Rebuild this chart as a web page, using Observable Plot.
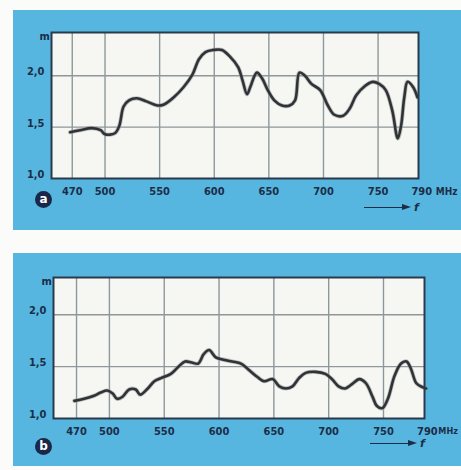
<!DOCTYPE html>
<html>
<head>
<meta charset="utf-8">
<script src="https://cdn.jsdelivr.net/npm/d3@7"></script>
<script src="https://cdn.jsdelivr.net/npm/@observablehq/plot@0.6"></script>
<style>
  html, body { margin: 0; padding: 0; background: #ffffff; }
  #wrap { position: relative; width: 461px; height: 470px; overflow: hidden; background: #fbfbf9; }
  .panel { position: absolute; background: #56b6e0; }
  .plot { position: absolute; left: 0; }
  .badge { position: absolute; width: 17px; height: 17px; border-radius: 50%; background: #1a2748;
           color: #ffffff; font: bold 12px "DejaVu Sans", sans-serif; text-align: center; line-height: 16px; }
  .arrow { position: absolute; height: 10px; width: 60px; }
  .arrow .ln { position: absolute; left: 0; top: 4px; width: 40px; border-top: 1px solid #1d2d48; }
  .arrow .hd { position: absolute; left: 38px; top: 1px; width: 0; height: 0;
               border-top: 3.5px solid transparent; border-bottom: 3.5px solid transparent; border-left: 9px solid #1d2d48; }
  .arrow .f { position: absolute; left: 50px; top: -1px; font: italic bold 11px "DejaVu Sans", sans-serif; color: #1d2d48; line-height: 12px; }
</style>
</head>
<body>
<div id="wrap">
  <div class="panel" style="left:13px; top:10px; width:448px; height:220px;"></div>
  <div class="panel" style="left:13px; top:253px; width:448px; height:213px;"></div>
  <div id="plotA" class="plot" style="top:0px;"></div>
  <div id="plotB" class="plot" style="top:235px;"></div>
  <div class="badge" style="left:35px; top:191px;">a</div>
  <div class="badge" style="left:35px; top:438px;">b</div>
  <div class="arrow" style="left:364px; top:203px;"><div class="ln"></div><div class="hd"></div><div class="f">f</div></div>
  <div class="arrow" style="left:370px; top:439px;"><div class="ln"></div><div class="hd"></div><div class="f">f</div></div>
</div>
<script>
// ---- data ----
const gridX = [470, 500, 550, 600, 650, 700, 750];
const xTickValues = [470, 500, 550, 600, 650, 700, 750, 790];
const xTickLabels = ["470", "500", "550", "600", "650", "700", "750", "790"];
const gridY = [1.5, 2.0];
const yTickValues = [1.0, 1.5, 2.0];
const yTickLabels = ["1,0", "1,5", "2,0"];
const unitY = "m";
const unitX = "MHz";

const freqA = [468, 477, 488, 496, 500, 509, 513, 517, 522, 529, 538, 548, 554, 563, 572, 580, 586, 592, 599, 607, 614, 622, 626, 630, 633, 639, 644, 649, 655, 662, 669, 674, 678, 683, 689, 697, 704, 710, 718, 724, 730, 738, 745, 751, 757, 763, 768, 771, 774, 777, 782, 786];
const valA  = [1.45, 1.47, 1.49, 1.47, 1.43, 1.44, 1.51, 1.70, 1.76, 1.78, 1.75, 1.71, 1.72, 1.79, 1.89, 2.01, 2.16, 2.23, 2.25, 2.25, 2.19, 2.08, 1.95, 1.82, 1.89, 2.03, 1.97, 1.86, 1.76, 1.71, 1.71, 1.76, 2.03, 2.00, 1.92, 1.86, 1.71, 1.62, 1.61, 1.68, 1.81, 1.90, 1.94, 1.92, 1.86, 1.66, 1.39, 1.51, 1.79, 1.94, 1.89, 1.79];

const freqB = [468, 477, 486, 492, 498, 503, 507, 512, 518, 524, 528, 535, 541, 547, 556, 563, 569, 575, 581, 586, 591, 597, 603, 612, 620, 627, 635, 641, 649, 655, 661, 667, 673, 679, 688, 697, 703, 709, 715, 721, 728, 734, 740, 744, 749, 754, 760, 766, 771, 775, 780, 786, 789];
const valB  = [1.17, 1.19, 1.22, 1.25, 1.27, 1.24, 1.19, 1.21, 1.28, 1.28, 1.23, 1.29, 1.36, 1.39, 1.43, 1.50, 1.55, 1.54, 1.53, 1.62, 1.66, 1.59, 1.57, 1.55, 1.53, 1.47, 1.40, 1.36, 1.38, 1.31, 1.29, 1.31, 1.39, 1.44, 1.45, 1.43, 1.38, 1.31, 1.29, 1.33, 1.38, 1.34, 1.21, 1.12, 1.10, 1.19, 1.41, 1.53, 1.55, 1.48, 1.34, 1.30, 1.29];

// ---- styles ----
const TXT = "#1d2d48";
const FONT = "'DejaVu Sans Condensed', 'Liberation Sans Narrow', sans-serif";

function panel(freq, val, opts) {
  const data = freq.map((f, i) => ({f, v: val[i]}));
  const xt = xTickValues.map((x, i) => ({x, label: xTickLabels[i]}));
  const yt = yTickValues.map((y, i) => ({y, label: yTickLabels[i]}));
  return Plot.plot({
    width: 461, height: 235,
    marginLeft: opts.ml, marginRight: opts.mr, marginTop: opts.mt, marginBottom: opts.mb,
    x: {domain: opts.xd, axis: null},
    y: {domain: opts.yd, axis: null},
    style: {background: "transparent", fontFamily: FONT, overflow: "visible"},
    marks: [
      Plot.frame({fill: "#f6f7f3", stroke: null}),
      Plot.ruleX(gridX, {stroke: "#8e979a", strokeWidth: 1.4}),
      Plot.ruleY(gridY, {stroke: "#8e979a", strokeWidth: 1.4}),
      Plot.line(data, {x: "f", y: "v", stroke: "#9a9a9a", strokeWidth: 4.2, curve: "catmull-rom", strokeOpacity: 0.6}),
      Plot.line(data, {x: "f", y: "v", stroke: "#2f3236", strokeWidth: 2.6, curve: "catmull-rom"}),
      Plot.frame({stroke: "#2a3a4c", strokeWidth: 2}),
      Plot.text(xt, {x: "x", text: "label", frameAnchor: "bottom", dy: 13, fill: TXT, fontSize: 11, fontWeight: "bold", lineAnchor: "middle"}),
      Plot.text([unitX], {x: xTickValues[xTickValues.length - 1], text: d => d, frameAnchor: "bottom", dy: 13, dx: opts.udx, textAnchor: "start", fill: TXT, fontSize: opts.ufs, fontWeight: "bold", lineAnchor: "middle"}),
      Plot.text(yt, {y: "y", text: "label", frameAnchor: "left", dx: -7, dy: opts.ydy, textAnchor: "end", fill: TXT, fontSize: 11, fontWeight: "bold", lineAnchor: "middle"}),
      Plot.text([unitY], {text: d => d, frameAnchor: "top-left", dx: -12, dy: 4, fill: TXT, fontSize: 11, fontWeight: "bold", lineAnchor: "middle"})
    ]
  });
}

document.getElementById("plotA").append(panel(freqA, valA, {
  ml: 51, mr: 43, mt: 32, mb: 57, xd: [451, 787], yd: [1.0, 2.42], ydy: -4, udx: 14, ufs: 10
}));
document.getElementById("plotB").append(panel(freqB, valB, {
  ml: 53, mr: 37, mt: 42, mb: 52, xd: [449, 787.4], yd: [1.0, 2.36], ydy: -4, udx: 11, ufs: 9
}));
</script>
</body>
</html>
